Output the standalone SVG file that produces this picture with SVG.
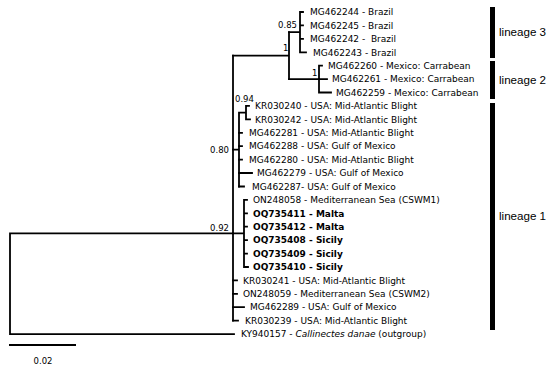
<svg xmlns="http://www.w3.org/2000/svg" width="550" height="370" viewBox="0 0 550 370">
<style>
.br{stroke:#000;stroke-width:1.8;fill:none;stroke-linecap:square}
.tl{font-family:"DejaVu Sans",Verdana,sans-serif;font-size:9px;fill:#000;white-space:pre}
.b{font-weight:bold}
.nl{font-family:"DejaVu Sans",Verdana,sans-serif;font-size:8.5px;fill:#000}
.lin{font-family:"Liberation Sans",Arial,sans-serif;font-size:11.6px;fill:#000}
.bar{fill:#000}
</style>
<rect width="550" height="370" fill="#fff"/>
<g id="connectors" class="br">
  <path d="M10,233.4 V334.1 M10,233.4 H233 M10,334.1 H234"/>
  <path d="M233,55.6 V320.7"/>
  <path d="M233,55.6 H289 M289,32.1 V79.1"/>
  <path d="M289,32.1 H300 M300,12 V52.3 M300,12 H303 M300,25.4 H303 M300,38.8 H303 M300,52.3 H306"/>
  <path d="M289,79.1 H319 M319,65.7 V92.5 M319,65.7 H322 M319,79.1 H327 M319,92.5 H331"/>
  <path d="M233,149.6 H239 M239,112.6 V186.5 M239,112.6 H246 M246,105.9 V119.4 M246,105.9 H249 M246,119.4 H250"/>
  <path d="M239,132.8 H242 M239,146.2 H242 M239,159.6 H242 M239,173 H252 M239,186.5 H244"/>
  <path d="M233,233.4 H244 M244,199.9 V267 M244,199.9 H247 M244,213.3 H247 M244,226.7 H247 M244,240.1 H247 M244,253.6 H247 M244,267 H248"/>
  <path d="M233,280.4 H237 M233,293.8 H237 M233,307.2 H244 M233,320.7 H238"/>
  <path d="M9,345 H76" stroke-linecap="butt"/>
</g>
<g id="node-labels">
  <text class="nl" x="297" y="28" text-anchor="end">0.85</text>
  <text class="nl" x="283" y="51">1</text>
  <text class="nl" x="312" y="76">1</text>
  <text class="nl" x="235" y="102">0.94</text>
  <text class="nl" x="229" y="153" text-anchor="end">0.80</text>
  <text class="nl" x="229" y="231" text-anchor="end">0.92</text>
</g>
<g id="tips">
  <text id="t1" class="tl" x="310" y="15.2">MG462244 - Brazil</text>
  <text id="t2" class="tl" x="310" y="28.6">MG462245 - Brazil</text>
  <text id="t3" class="tl" x="310" y="42" xml:space="preserve">MG462242 -  Brazil</text>
  <text id="t4" class="tl" x="313" y="55.5">MG462243 - Brazil</text>
  <text id="t5" class="tl" x="328" y="68.9">MG462260 - Mexico: Carrabean</text>
  <text id="t6" class="tl" x="332" y="82.3">MG462261 - Mexico: Carrabean</text>
  <text id="t7" class="tl" x="336" y="95.7">MG462259 - Mexico: Carrabean</text>
  <text id="t8" class="tl" x="255" y="109.1">KR030240 - USA: Mid-Atlantic Blight</text>
  <text id="t9" class="tl" x="255" y="122.6">KR030242 - USA: Mid-Atlantic Blight</text>
  <text id="t10" class="tl" x="249" y="136">MG462281 - USA: Mid-Atlantic Blight</text>
  <text id="t11" class="tl" x="249" y="149.4">MG462288 - USA: Gulf of Mexico</text>
  <text id="t12" class="tl" x="249" y="162.8">MG462280 - USA: Mid-Atlantic Blight</text>
  <text id="t13" class="tl" x="257" y="176.2">MG462279 - USA: Gulf of Mexico</text>
  <text id="t14" class="tl" x="252" y="189.7">MG462287- USA: Gulf of Mexico</text>
  <text id="t15" class="tl" x="253" y="203.1">ON248058 - Mediterranean Sea (CSWM1)</text>
  <text id="t16" class="tl b" x="253" y="216.5">OQ735411 - Malta</text>
  <text id="t17" class="tl b" x="253" y="229.9">OQ735412 - Malta</text>
  <text id="t18" class="tl b" x="253" y="243.3">OQ735408 - Sicily</text>
  <text id="t19" class="tl b" x="253" y="256.8">OQ735409 - Sicily</text>
  <text id="t20" class="tl b" x="253" y="270.2">OQ735410 - Sicily</text>
  <text id="t21" class="tl" x="243" y="283.6">KR030241 - USA: Mid-Atlantic Blight</text>
  <text id="t22" class="tl" x="243" y="297">ON248059 - Mediterranean Sea (CSWM2)</text>
  <text id="t23" class="tl" x="250" y="310.4">MG462289 - USA: Gulf of Mexico</text>
  <text id="t24" class="tl" x="245" y="323.9">KR030239 - USA: Mid-Atlantic Blight</text>
  <text id="t25" class="tl" x="241" y="337.3">KY940157 - <tspan font-style="italic">Callinectes danae</tspan> (outgroup)</text>
</g>
<g id="lineages">
  <rect class="bar" x="490" y="7" width="5" height="51"/>
  <rect class="bar" x="490" y="61" width="5" height="38"/>
  <rect class="bar" x="490" y="103" width="5" height="227"/>
  <text class="lin" x="499" y="36">lineage 3</text>
  <text class="lin" x="499" y="84">lineage 2</text>
  <text class="lin" x="499" y="220">lineage 1</text>
</g>
<g id="scale">
  <text class="nl" x="43" y="364" text-anchor="middle" font-size="10">0.02</text>
</g>
</svg>
